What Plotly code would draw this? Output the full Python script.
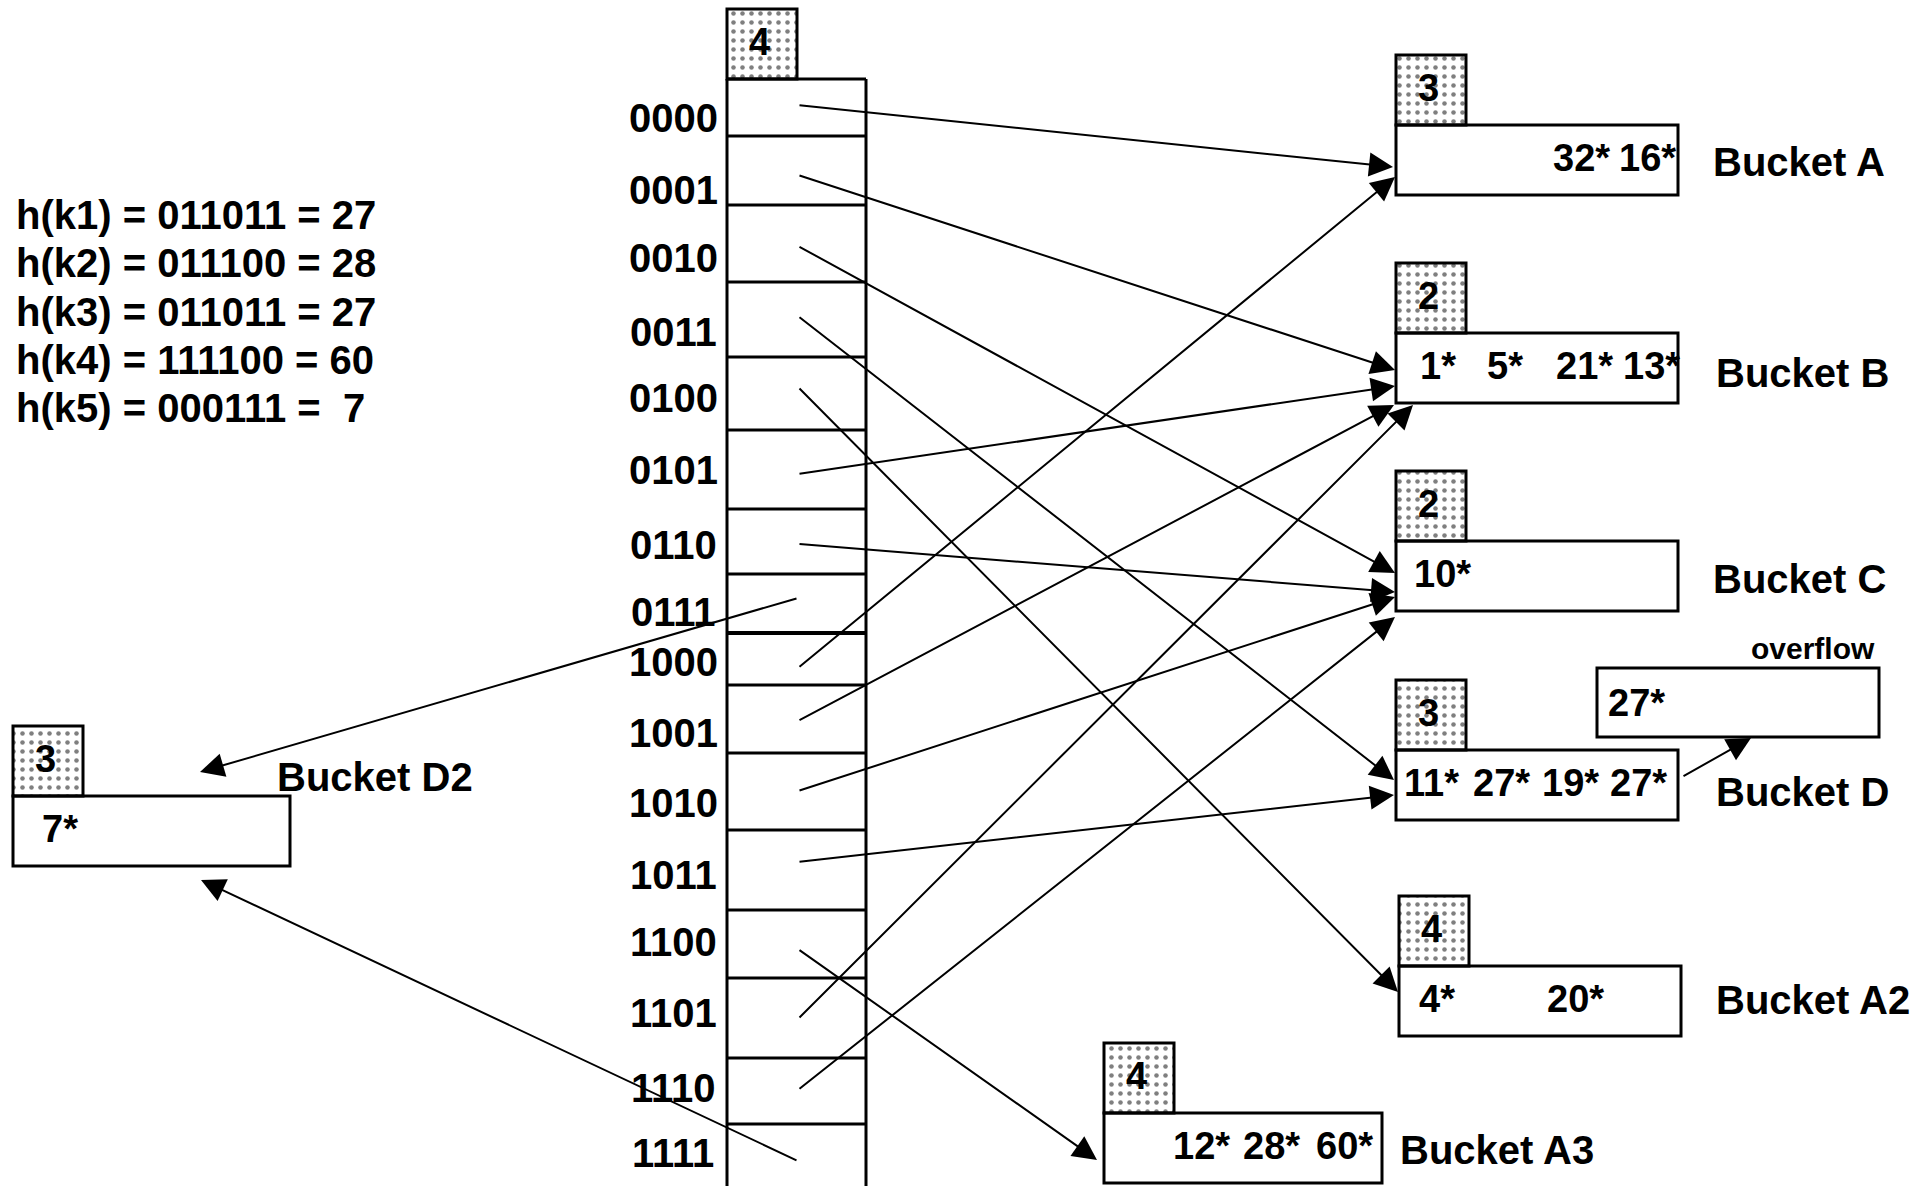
"""
Extendible hashing: directory of global depth 4 after splitting buckets A and D.
Drawn with plotly shapes / annotations on a pixel-sized canvas.
"""

import plotly.graph_objects as go

# ── Data ──
hash_keys = ['k1', 'k2', 'k3', 'k4', 'k5']
hash_bits = ['011011', '011100', '011011', '111100', '000111']
hash_vals = [27, 28, 27, 60, 7]

global_depth = 4
dir_labels = ['0000', '0001', '0010', '0011', '0100', '0101', '0110', '0111',
              '1000', '1001', '1010', '1011', '1100', '1101', '1110', '1111']
dir_pointers = ['A', 'B', 'C', 'D', 'A2', 'B', 'C', 'D2',
                'A', 'B', 'C', 'D', 'A3', 'B', 'C', 'D2']

bucket_names = ['A', 'B', 'C', 'D', 'A2', 'A3', 'D2']
local_depths = [3, 2, 2, 3, 4, 4, 3]
bucket_entries = [
    ['32*', '16*'],
    ['1*', '5*', '21*', '13*'],
    ['10*'],
    ['11*', '27*', '19*', '27*'],
    ['4*', '20*'],
    ['12*', '28*', '60*'],
    ['7*'],
]
overflow_entries = ['27*']

# ── Layout (pixel canvas) ──
W, H = 1914, 1186
FONT = 'Liberation Sans, Arial, sans-serif'
BOX_W, DEPTH_W, ROW_H = 282, 70, 70

# bucket box: left x, top of depth box, entry x offsets, label position
bucket_pos = {
    'A':  dict(x=1396, y=55,   ex=[155, 221], lab=(1711, 162)),
    'B':  dict(x=1396, y=263,  ex=[22, 89, 158, 225], lab=(1714, 373)),
    'C':  dict(x=1396, y=471,  ex=[16], lab=(1711, 579)),
    'D':  dict(x=1396, y=680,  ex=[6, 75, 144, 212], lab=(1714, 792)),
    'A2': dict(x=1399, y=896,  ex=[18, 146], lab=(1714, 1000)),
    'A3': dict(x=1104, y=1043, ex=[67, 137, 210], lab=(1398, 1150), w=278),
    'D2': dict(x=13,   y=726,  ex=[27], lab=(275, 777), w=277),
}

dir_x0, dir_x1 = 727, 866
dir_seps = [79, 136, 205, 282, 357, 430, 509, 574, 633, 685, 753, 830, 910, 978, 1058, 1124]
dir_label_y = [118, 190, 258, 332, 398, 470, 545, 612, 662, 733, 803, 875, 942, 1013, 1088, 1153]
ptr_x = 798
ptr_y = [105, 175, 246, 316, 387, 474, 544, 598, 668, 721, 791, 862, 949, 1019, 1090, 1161]
ptr_tips = [(1393, 167), (1395, 370), (1395, 573), (1394, 780), (1398, 992), (1395, 386),
            (1395, 592), (200, 772), (1395, 177), (1394, 405), (1395, 597), (1394, 795),
            (1097, 1160), (1413, 405), (1395, 617), (201, 880)]

fig = go.Figure()
shapes = []
annotations = []


def txt(x, y, s, size=40, xanchor='left'):
    annotations.append(dict(
        x=x, y=y, xref='x', yref='y', text=s, showarrow=False,
        xanchor=xanchor, yanchor='middle',
        font=dict(family=FONT, size=size, color='black', weight='bold'),
    ))


def depth_box(x0, y0, value):
    # dotted fill through a scatter fill pattern, outline as a shape
    fig.add_trace(go.Scatter(
        x=[x0, x0 + DEPTH_W, x0 + DEPTH_W, x0, x0],
        y=[y0, y0, y0 + ROW_H, y0 + ROW_H, y0],
        mode='lines', fill='toself', line=dict(width=0),
        fillpattern=dict(shape='.', size=9, solidity=0.2, fgcolor='black', bgcolor='white'),
        hoverinfo='skip', showlegend=False,
    ))
    shapes.append(dict(type='rect', x0=x0, x1=x0 + DEPTH_W, y0=y0, y1=y0 + ROW_H,
                       line=dict(color='black', width=3)))
    txt(x0 + DEPTH_W / 2 - 3, y0 + ROW_H / 2 - 2, str(value), size=38, xanchor='center')


# ── Hash values text ──
for i, (k, b, v) in enumerate(zip(hash_keys, hash_bits, hash_vals)):
    val = f'{v}' if v >= 10 else f'\u00a0{v}'
    txt(14, 215 + i * 48.3, f'h({k}) = {b} = {val}', size=40)

# ── Directory ──
depth_box(dir_x0, 9, global_depth)
shapes.append(dict(type='line', x0=dir_x0, x1=dir_x0, y0=dir_seps[0], y1=H + 10,
                   line=dict(color='black', width=3)))
shapes.append(dict(type='line', x0=dir_x1, x1=dir_x1, y0=dir_seps[0], y1=H + 10,
                   line=dict(color='black', width=3)))
for i, sy in enumerate(dir_seps):
    shapes.append(dict(type='line', x0=dir_x0, x1=dir_x1, y0=sy, y1=sy,
                       line=dict(color='black', width=4 if sy == 633 else 3)))
for lab, ly in zip(dir_labels, dir_label_y):
    txt(673, ly, lab, size=40, xanchor='center')

# ── Buckets ──
for name, d, entries in zip(bucket_names, local_depths, bucket_entries):
    p = bucket_pos[name]
    bw = p.get('w', BOX_W)
    depth_box(p['x'], p['y'], d)
    y0 = p['y'] + ROW_H
    shapes.append(dict(type='rect', x0=p['x'], x1=p['x'] + bw, y0=y0, y1=y0 + ROW_H,
                       line=dict(color='black', width=3)))
    for e, ex in zip(entries, p['ex']):
        txt(p['x'] + ex, y0 + 33, e, size=38)
    txt(p['lab'][0], p['lab'][1], f'Bucket {name}', size=40)

# overflow page of bucket D
ov_x0, ov_x1, ov_y0, ov_y1 = 1597, 1879, 668, 737
shapes.append(dict(type='rect', x0=ov_x0, x1=ov_x1, y0=ov_y0, y1=ov_y1,
                   line=dict(color='black', width=3)))
txt(ov_x0 + 9, 703, overflow_entries[0], size=38)
txt(ov_x1 - 2, 648, 'overflow', size=30, xanchor='right')


def arrow(x0, y0, x1, y1):
    annotations.append(dict(
        x=x1, y=y1, ax=x0, ay=y0, xref='x', yref='y', axref='x', ayref='y',
        text='', showarrow=True, arrowhead=2, arrowsize=2.4, arrowwidth=2,
        arrowcolor='black',
    ))


# ── Directory pointers ──
for py, tip in zip(ptr_y, ptr_tips):
    arrow(ptr_x, py, tip[0], tip[1])
arrow(1682, 777, 1751, 738)

fig.update_layout(
    width=W, height=H,
    margin=dict(l=0, r=0, t=0, b=0),
    paper_bgcolor='white', plot_bgcolor='white',
    xaxis=dict(range=[0, W], visible=False, fixedrange=True),
    yaxis=dict(range=[H, 0], visible=False, fixedrange=True),
    shapes=shapes,
    annotations=annotations,
    showlegend=False,
)

fig.write_html('out.html', config={'displayModeBar': False},
               post_script="document.body.style.margin='0';")
